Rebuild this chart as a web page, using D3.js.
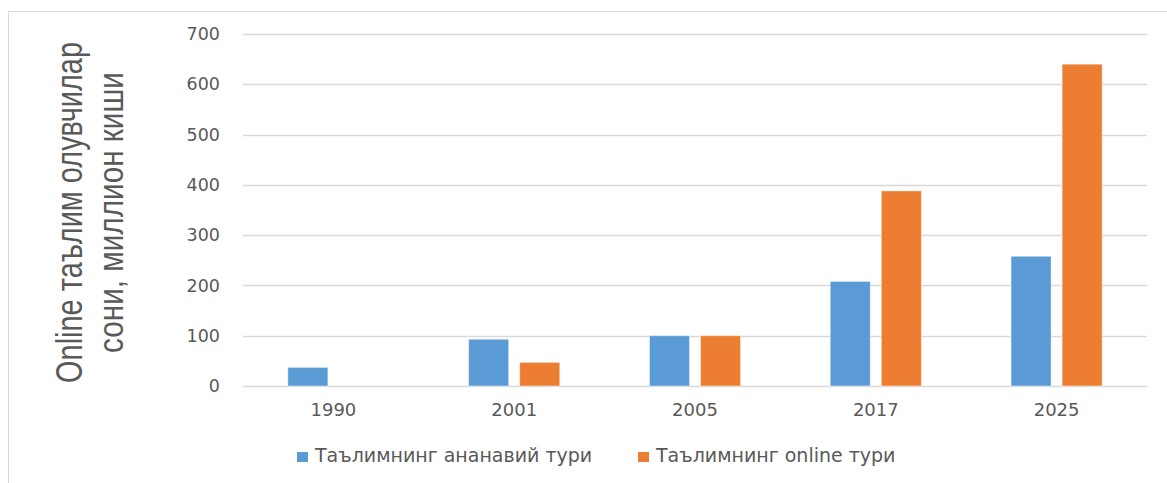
<!DOCTYPE html>
<html>
<head>
<meta charset="utf-8">
<script src="https://cdn.jsdelivr.net/npm/d3@7"></script>
<style>
  html, body { margin: 0; padding: 0; background: #fff; }
  svg { display: block; }
  text { font-family: "DejaVu Sans", sans-serif; fill: #595959; }
</style>
</head>
<body>
<svg id="chart" width="1167" height="483"></svg>
<script>
// Learners by year, million people
const years = ["1990", "2001", "2005", "2017", "2025"];
const seriesNames = ["Таълимнинг ананавий тури", "Таълимнинг online тури"];
const traditional = [37, 93, 100, 208, 258];
const online = [null, 47, 100, 388, 640];
const yTicks = [0, 100, 200, 300, 400, 500, 600, 700];
const titleLines = ["Online таълим олувчилар", "сони, миллион киши"];
const colors = ["#5b9bd5", "#ed7d31"];

const svg = d3.select("#chart");
const W = 1167, H = 483;

// frame
svg.append("path")
  .attr("d", `M8.5,${H} V11.5 H${W}`)
  .attr("fill", "none")
  .attr("stroke", "#d9d9d9")
  .attr("stroke-width", 1);

const plot = { left: 243, right: 1147, top: 34, bottom: 386 };

const y = d3.scaleLinear().domain([0, 700]).range([plot.bottom, plot.top]);
const x0 = d3.scaleBand().domain(years)
  .range([plot.left, plot.right])
  .paddingInner(0.496).paddingOuter(0.248);
const x1 = d3.scaleBand().domain(seriesNames)
  .range([0, x0.bandwidth()])
  .paddingInner(0.216);

// gridlines
svg.append("g")
  .selectAll("line").data(yTicks).join("line")
  .attr("x1", plot.left).attr("x2", plot.right)
  .attr("y1", d => Math.round(y(d)) + 0.5).attr("y2", d => Math.round(y(d)) + 0.5)
  .attr("stroke", "#d9d9d9").attr("stroke-width", 1.5);

// y tick labels
const yAxis = d3.axisLeft(y).tickValues(yTicks).tickSize(0).tickPadding(0);
const gy = svg.append("g").attr("transform", "translate(220,0)").call(yAxis);
gy.select(".domain").remove();
gy.selectAll("text")
  .attr("font-family", null).attr("font-size", null)
  .style("font-size", "17.5px").attr("fill", "#595959");

// x category labels
const xAxis = d3.axisBottom(x0).tickSize(0).tickPadding(0);
const gx = svg.append("g").attr("transform", "translate(0,403)").call(xAxis);
gx.select(".domain").remove();
gx.selectAll("text")
  .attr("font-family", null).attr("font-size", null).attr("dy", "0.71em")
  .style("font-size", "18px").attr("fill", "#595959");

// bars
const rows = years.map((yr, i) => ({ year: yr, values: [traditional[i], online[i]] }));
const groups = svg.append("g").selectAll("g").data(rows).join("g")
  .attr("transform", d => `translate(${x0(d.year)},0)`);
groups.selectAll("rect")
  .data(d => d.values.map((v, j) => ({ v, j })).filter(e => e.v != null))
  .join("rect")
  .attr("x", e => x1(seriesNames[e.j]))
  .attr("width", x1.bandwidth())
  .attr("y", e => y(e.v))
  .attr("height", e => y(0) - y(e.v))
  .attr("fill", e => colors[e.j])
  .attr("stroke", "#ffffff").attr("stroke-opacity", 0.45).attr("stroke-width", 1);

// y axis title: two rotated lines, condensed to a fixed length
const titleX = [82, 123];
const titleLen = [341, 281];
titleLines.forEach((t, i) => {
  const g = svg.append("g");
  const txt = g.append("text")
    .attr("text-anchor", "middle")
    .style("font-family", "'Liberation Sans', Arial, sans-serif")
    .style("font-size", "36px")
    .attr("fill", "#404040")
    .text(t);
  const natural = txt.node().getComputedTextLength();
  const sx = titleLen[i] / natural;
  g.attr("transform", `translate(${titleX[i]},212.5) rotate(-90) scale(${sx},1)`);
});

// legend
const legendX = [297, 638];
const legend = svg.append("g");
seriesNames.forEach((name, i) => {
  legend.append("rect")
    .attr("x", legendX[i]).attr("y", 452)
    .attr("width", 11).attr("height", 10)
    .attr("fill", colors[i]);
  legend.append("text")
    .attr("x", legendX[i] + 18).attr("y", 462)
    .style("font-size", "19px")
    .text(name);
});
</script>
</body>
</html>
